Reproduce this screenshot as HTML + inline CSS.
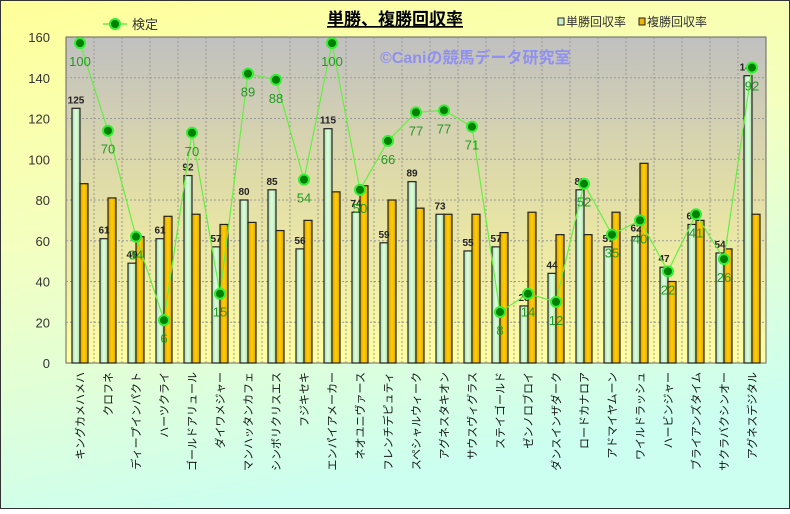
<!DOCTYPE html>
<html><head><meta charset="utf-8"><style>
body{margin:0;width:790px;height:509px;overflow:hidden;font-family:"Liberation Sans","Noto Sans CJK JP",sans-serif}
</style></head><body>
<svg id="s" width="790" height="509" xmlns="http://www.w3.org/2000/svg" font-family="Liberation Sans, Noto Sans CJK JP, sans-serif">
<defs>
<linearGradient id="bg" x1="0" y1="0" x2="0.3" y2="1"><stop offset="0" stop-color="#ffff99"/><stop offset="0.45" stop-color="#f4ffc0"/><stop offset="1" stop-color="#ccfff0"/></linearGradient>
<linearGradient id="pbg" x1="0" y1="0" x2="0" y2="1"><stop offset="0" stop-color="#c0c0c0"/><stop offset="0.45" stop-color="#e0dca8"/><stop offset="1" stop-color="#ffffa0"/></linearGradient>
<linearGradient id="gw" x1="0" y1="0" x2="1" y2="0"><stop offset="0" stop-color="#a8dca8"/><stop offset="0.5" stop-color="#e0ffe0"/><stop offset="1" stop-color="#a8dca8"/></linearGradient>
<linearGradient id="gp" x1="0" y1="0" x2="1" y2="0"><stop offset="0" stop-color="#e0a000"/><stop offset="0.5" stop-color="#ffd000"/><stop offset="1" stop-color="#e0a000"/></linearGradient>
</defs>
<rect x="0.5" y="0.5" width="789" height="508" fill="url(#bg)" stroke="#333"/>
<rect x="66" y="37" width="700" height="326" fill="url(#pbg)" stroke="#666"/>
<g id="g"></g>
<text x="395" y="25" font-size="17" font-weight="bold" text-anchor="middle" text-decoration="underline">単勝、複勝回収率</text>
<text x="380" y="63" font-size="16" fill="#9090f0" font-weight="bold">©Caniの競馬データ研究室</text>
<line x1="103" y1="24" x2="127" y2="24" stroke="#66ee44" stroke-width="1.5"/>
<circle cx="115" cy="24" r="5" fill="#008000" stroke="#33ee33" stroke-width="2"/>
<text x="132" y="29" font-size="13" fill="#333">検定</text>
<rect x="558" y="18" width="6" height="7" fill="#ccf0cc" stroke="#222"/>
<text x="566" y="26" font-size="12" fill="#333">単勝回収率</text>
<rect x="639" y="18" width="6" height="7" fill="#f0b400" stroke="#222"/>
<text x="647" y="26" font-size="12" fill="#333">複勝回収率</text>
</svg>
<script>
var names=["キングカメハメハ","クロフネ","ディープインパクト","ハーツクライ","ゴールドアリュール","ダイワメジャー","マンハッタンカフェ","シンボリクリスエス","フジキセキ","エンパイアメーカー","ネオユニヴァース","フレンチデピュティ","スペシャルウィーク","アグネスタキオン","サウスヴィグラス","ステイゴールド","ゼンノロブロイ","ダンスインザダーク","ロードカナロア","アドマイヤムーン","ワイルドラッシュ","ハービンジャー","ブライアンズタイム","サクラバクシンオー","アグネスデジタル"];
var win=[125,61,49,61,92,57,80,85,56,115,74,59,89,73,55,57,28,44,85,57,62,47,68,54,141];
var plc=[88,81,62,72,73,68,69,65,70,84,87,80,76,73,73,64,74,63,63,74,98,40,70,56,73];
var kp=[157,114,62,21,113,34,142,139,90,157,85,109,123,124,116,25,34,30,88,63,70,45,73,51,145];
var kl=[100,70,34,6,70,15,89,88,54,100,50,66,77,77,71,8,14,12,52,35,40,22,41,26,92];
function Y(v){return 363-v*2.0375}
var h="";
for(var v=0;v<=160;v+=20){var y=Y(v);if(v>0&&v<160)h+='<line x1="66" x2="766" y1="'+y+'" y2="'+y+'" stroke="#999" stroke-dasharray="2,2"/>';h+='<text x="50" y="'+(y+5)+'" font-size="13" fill="#333" text-anchor="end">'+v+'</text>';}
for(var i=1;i<25;i++){var x=66+i*28;h+='<line x1="'+x+'" x2="'+x+'" y1="37" y2="363" stroke="#999" stroke-dasharray="2,2"/>';}
var pts=[];
for(var i=0;i<25;i++){var c=66+i*28;
h+='<rect x="'+(c+6)+'" y="'+Y(win[i])+'" width="8" height="'+(win[i]*2.0375)+'" fill="url(#gw)" stroke="#222" stroke-width="1.2"/>';
h+='<rect x="'+(c+14)+'" y="'+Y(plc[i])+'" width="8" height="'+(plc[i]*2.0375)+'" fill="url(#gp)" stroke="#222" stroke-width="1.2"/>';
h+='<text x="'+(c+10)+'" y="'+(Y(win[i])-5)+'" font-size="10" font-weight="bold" fill="#222" text-anchor="middle">'+win[i]+'</text>';
h+='<text transform="translate('+(c+14+4)+',372) rotate(-90)" font-size="11" text-anchor="end" fill="#111">'+names[i]+'</text>';
pts.push((c+14)+','+Y(kp[i]));}
h+='<polyline points="'+pts.join(' ')+'" fill="none" stroke="#66ee44" stroke-width="1.2"/>';
for(var i=0;i<25;i++){var c=66+i*28+14,y=Y(kp[i]);
h+='<circle cx="'+c+'" cy="'+y+'" r="5" fill="#008000" stroke="#33ee33" stroke-width="2"/>';
h+='<text x="'+c+'" y="'+(y+23)+'" font-size="13" fill="#229922" text-anchor="middle">'+kl[i]+'</text>';}
document.getElementById("g").innerHTML=h;
</script>
</body></html>
